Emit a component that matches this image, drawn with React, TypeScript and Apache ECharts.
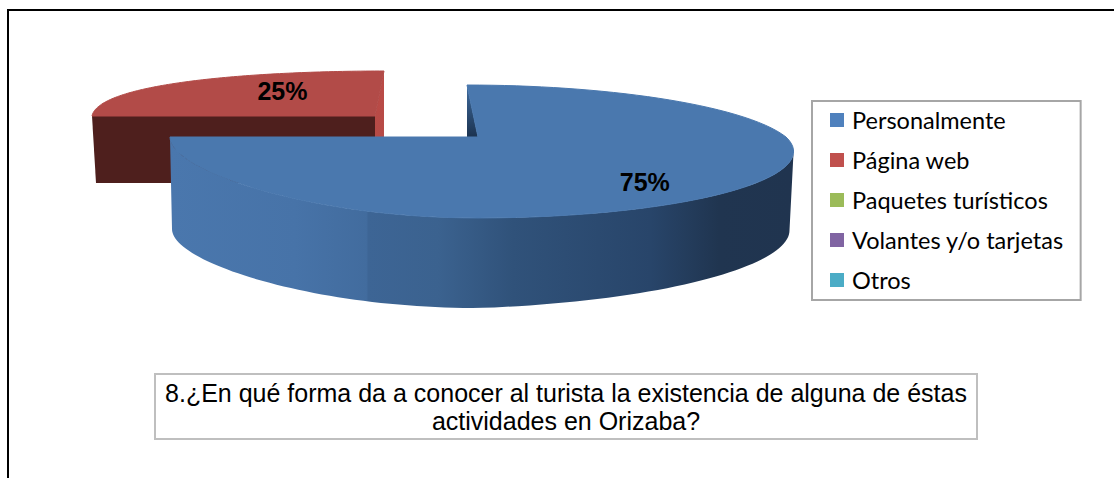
import React, { useEffect, useRef } from "react";
import * as echarts from "echarts";

const categories = ["Personalmente", "Página web", "Paquetes turísticos", "Volantes y/o tarjetas", "Otros"];
const values = [75, 25, 0, 0, 0];
const colors = ["#4f81bd", "#c0504d", "#9bbb59", "#8064a2", "#4bacc6"];
const titleLines = ["8.¿En qué forma da a conocer al turista la existencia de alguna de éstas", "actividades en Orizaba?"];

const K = 0.218;
const STEPS = 96;

// Perspective layout of each exploded slice
const layouts: any[] = [
  {
    ax: 478, ay: 137, rx: 308, ry: 63.3, skew: 11 / 52, depth: 92, bottomRxL: 306, bottomRxR: 304, bottomRy: 61.8, rise: 13,
    top: "#4a78ae", label: { r: 0.685, dy: 11 }, labelColor: "#000",
    wall: [[0, "#4a77ad"], [0.2, "#4773a8"], [0.315, "#426c9e"], [0.318, "#3d6595"], [0.43, "#3b628f"], [0.55, "#30527a"], [0.77, "#28456a"], [0.88, "#203550"], [1, "#20344f"]],
    inner: [[0, "#3f6c9f"], [1, "#1c3350"]],
  },
  {
    ax: 375, ay: 116, rx: 283, ry: 54.8, skew: -9 / 45, depth: 67, bottomRxL: 279, bottomRxR: 279, bottomRy: 52, rise: 0,
    top: "#b24b48", label: { r: 0.48, dy: -8 }, labelColor: "#000",
    wall: [[0, "#4e1f1d"], [1, "#4e1f1d"]],
    inner: [[0, "#bb4a46"], [1, "#b34b47"]],
  },
];

function project(L: any, theta: number, r: number) {
  const u = Math.sin(theta) * r;
  const v = -Math.cos(theta) * r;
  const w = 1 - K * v;
  const dy = (L.ry * v) / w;
  const sk = dy < 0 ? L.skew * dy : 0;
  const xw = u < 0 ? 1 : w;
  return [L.ax + (L.rx * u) / xw + sk, L.ay + dy];
}

function projectBottom(L: any, theta: number) {
  const u = Math.sin(theta);
  const v = -Math.cos(theta);
  const w = 1 - K * v;
  const x = u < 0 ? L.bottomRxL * u : (L.bottomRxR * u) / w;
  return [L.ax + x, L.ay + L.depth + (L.bottomRy * v) / w - L.rise * Math.max(0, u)];
}

function sliceRange(index: number) {
  const total = values.reduce((a, b) => a + b, 0);
  const before = values.slice(0, index).reduce((a, b) => a + b, 0);
  return [(before / total) * Math.PI * 2, ((before + values[index]) / total) * Math.PI * 2];
}

function makeRenderItem(index: number) {
  return () => {
    if (!values[index]) return { type: "group", children: [] };
    const L = layouts[index];
    const [a0, a1] = sliceRange(index);
    const arc: number[][] = [];
    for (let i = 0; i <= STEPS; i++) arc.push(project(L, a0 + ((a1 - a0) * i) / STEPS, 1));
    const children: any[] = [];
    const grad = (x2: number, y2: number, stops: any[]) =>
      new echarts.graphic.LinearGradient(0, 0, x2, y2, stops.map(([offset, color]) => ({ offset, color })));

    if (index === 0) {
      // outer wall facing the viewer, starting on the silhouette of the rim
      const wall: number[][] = [];
      const from = Math.PI / 2 + Math.asin(K);
      for (let i = 0; i <= STEPS; i++) wall.push(project(L, from + ((a1 - from) * i) / STEPS, 1));
      for (let i = STEPS; i >= 0; i--) wall.push(projectBottom(L, from + ((a1 - from) * i) / STEPS));
      children.push({ type: "polygon", shape: { points: wall }, style: { fill: grad(1, 0, L.wall) } });
      // cut face seen at the start of the slice
      const p = arc[0];
      children.push({
        type: "polygon",
        shape: { points: [p, [p[0], L.ay], [L.ax, L.ay]] },
        style: { fill: grad(0, 1, L.inner) },
      });
    } else {
      // front cut face and lit side face
      const left = arc[0];
      const right = arc[STEPS];
      const leftB = projectBottom(L, a0);
      children.push({
        type: "polygon",
        shape: { points: [left, [L.ax, L.ay], [L.ax, L.ay + L.depth], leftB] },
        style: { fill: grad(1, 0, L.wall) },
      });
      children.push({
        type: "polygon",
        shape: { points: [[L.ax, L.ay], right, [right[0], L.ay + L.depth - 24], [L.ax, L.ay + L.depth]] },
        style: { fill: grad(0, 1, L.inner) },
      });
    }
    children.push({
      type: "polygon",
      shape: { points: [[L.ax, L.ay], ...arc] },
      style: { fill: L.top, stroke: L.top, lineWidth: 1, lineJoin: "round" },
    });
    const mid = project(L, (a0 + a1) / 2, L.label.r);
    children.push({
      type: "text",
      z2: 10,
      x: mid[0],
      y: mid[1] + L.label.dy,
      style: {
        text: `${values[index]}%`,
        fill: L.labelColor,
        font: 'bold 25px "Liberation Sans", Arial, sans-serif',
        align: "center",
        verticalAlign: "middle",
      },
    });
    return { type: "group", children };
  };
}

export default function App() {
  const ref = useRef<HTMLDivElement>(null);
  useEffect(() => {
    document.body.style.margin = "0";
    const chart = echarts.init(ref.current!, undefined, { renderer: "svg" });
    chart.setOption({
      animation: false,
      backgroundColor: "#fff",
      color: colors,
      title: {
        text: titleLines.join("\n"),
        left: 556,
        top: 374,
        textAlign: "center",
        padding: [5, 10, 4, 10],
        borderColor: "#bfbfbf",
        borderWidth: 2,
        backgroundColor: "#fff",
        textStyle: {
          fontFamily: '"Liberation Sans", Arial, sans-serif',
          fontWeight: "normal",
          fontSize: 25,
          lineHeight: 28,
          color: "#000",
        },
      },
      legend: {
        orient: "vertical",
        left: 812,
        top: 101,
        data: categories,
        icon: "rect",
        itemWidth: 14,
        itemHeight: 14,
        itemGap: 14,
        padding: [6, 17, 7, 18],
        borderColor: "#a6a6a6",
        borderWidth: 2,
        backgroundColor: "#fff",
        selectedMode: false,
        textStyle: { fontFamily: "Lato, sans-serif", fontSize: 23.5, color: "#000", lineHeight: 26, padding: [0, 0, 0, 3] },
      },
      graphic: [
        {
          type: "polyline",
          z: -1,
          shape: { points: [[8, 478], [8, 10], [1114, 10]] },
          style: { stroke: "#000", lineWidth: 2, fill: "none" },
        },
      ],
      series: categories.map((name, i) => ({
        type: "custom",
        name,
        coordinateSystem: "none",
        z: 5 - i,
        silent: true,
        itemStyle: { color: colors[i] },
        data: [values[i]],
        renderItem: makeRenderItem(i),
      })).reverse(),
    });
    return () => chart.dispose();
  }, []);
  return <div ref={ref} style={{ width: 1114, height: 478 }} />;
}
